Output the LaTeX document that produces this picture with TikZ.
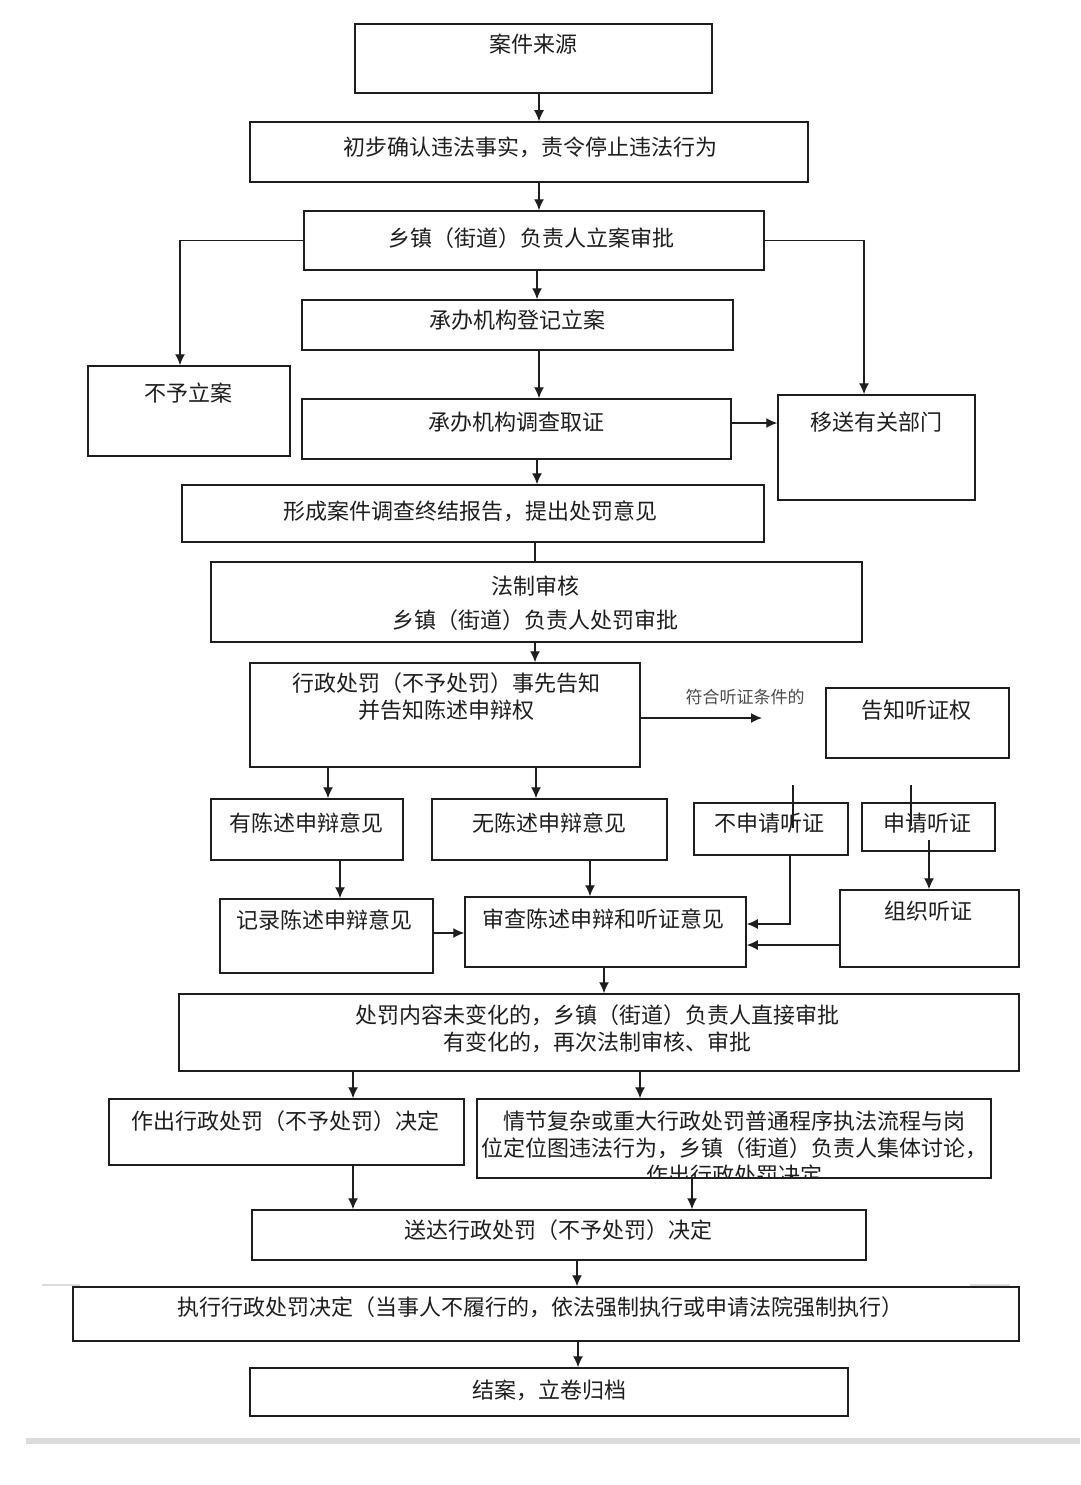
\documentclass[tikz,border=0pt]{standalone}
\usepackage{fontspec}
\newfontfamily\cjk{Noto Sans CJK SC}
\usepackage{tikz}
\usetikzlibrary{arrows.meta,positioning,calc}
\definecolor{Ink}{HTML}{1E1E1E}
\definecolor{Faint}{HTML}{DCDCDC}
\tikzset{
  box/.style={draw=Ink,line width=1.5pt,fill=white,inner sep=0pt},
  txt/.style={font=\cjk\fontsize{22pt}{27pt}\selectfont,text=Ink,align=center,inner sep=0pt},
  smalltxt/.style={font=\cjk\fontsize{17pt}{20pt}\selectfont,text=black!70,inner sep=0pt},
  arr/.style={-{Latex[length=11pt,width=10pt]},line width=1.4pt,draw=Ink},
  ln/.style={line width=1.4pt,draw=Ink}
}
\begin{document}
\begin{tikzpicture}[x=1pt,y=-1pt]
\useasboundingbox (0,0) rectangle (1080,1485);
\fill[white] (0,0) rectangle (1080,1485);
% boxes
\node[box,minimum width=357pt,minimum height=69pt] (src) at (533.5,58.5) {};
\node[box,minimum width=558pt,minimum height=60pt] (prelim) at (529,152) {};
\node[box,minimum width=460pt,minimum height=59pt] (appr) at (534,240.5) {};
\node[box,minimum width=431pt,minimum height=50pt] (reg) at (517.5,325) {};
\node[box,minimum width=202pt,minimum height=90pt] (nocase) at (189,411) {};
\node[box,minimum width=429pt,minimum height=60pt] (inv) at (516.5,429) {};
\node[box,minimum width=197pt,minimum height=105pt] (xfer) at (876.5,447.5) {};
\node[box,minimum width=582pt,minimum height=57pt] (rep) at (473,513.5) {};
\node[box,minimum width=651pt,minimum height=80pt] (legal) at (536.5,602) {};
\node[box,minimum width=390pt,minimum height=104pt] (notice) at (445,715) {};
\node[box,minimum width=183pt,minimum height=70pt] (hright) at (917.5,723) {};
\node[box,minimum width=192pt,minimum height=61pt] (haveop) at (307,829.5) {};
\node[box,minimum width=235pt,minimum height=61pt] (noop) at (549.5,829.5) {};
\node[box,minimum width=154pt,minimum height=52pt] (nohear) at (771,829) {};
\node[box,minimum width=133pt,minimum height=48pt] (hear) at (928.5,827) {};
\node[box,minimum width=213pt,minimum height=74pt] (rec) at (326.5,936) {};
\node[box,minimum width=281pt,minimum height=70pt] (review) at (605.5,932) {};
\node[box,minimum width=179pt,minimum height=77pt] (org) at (929.5,928.5) {};
\node[box,minimum width=840pt,minimum height=77pt] (same) at (599,1032.5) {};
\node[box,minimum width=355pt,minimum height=66pt] (dec) at (286.5,1132) {};
\node[box,minimum width=514pt,minimum height=79pt] (major) at (734,1138.5) {};
\node[box,minimum width=614pt,minimum height=50pt] (deliver) at (559,1235) {};
\node[box,minimum width=946pt,minimum height=54pt] (exec) at (546,1314) {};
\node[box,minimum width=598pt,minimum height=48pt] (close) at (549,1392) {};
% texts
\node[txt] (src-t) at (533,44) {案件来源};
\node[txt] (prelim-t) at (530,147) {初步确认违法事实，责令停止违法行为};
\node[txt] (appr-t) at (531,238) {乡镇（街道）负责人立案审批};
\node[txt] (reg-t) at (517,320) {承办机构登记立案};
\node[txt] (nocase-t) at (188,393) {不予立案};
\node[txt] (inv-t) at (516,422) {承办机构调查取证};
\node[txt] (xfer-t) at (876,422) {移送有关部门};
\node[txt] (rep-t) at (470,511) {形成案件调查终结报告，提出处罚意见};
\node[txt] (legal-t) at (535,603) {法制审核\\[7pt]乡镇（街道）负责人处罚审批};
\node[txt] (notice-t) at (446,696.5) {行政处罚（不予处罚）事先告知\\并告知陈述申辩权};
\node[txt] (hright-t) at (916,710) {告知听证权};
\node[txt] (haveop-t) at (306,823) {有陈述申辩意见};
\node[txt] (noop-t) at (549,823) {无陈述申辩意见};
\node[txt] (nohear-t) at (769,823) {不申请听证};
\node[txt] (hear-t) at (927,823) {申请听证};
\node[txt] (rec-t) at (324,920) {记录陈述申辩意见};
\node[txt] (review-t) at (603,919) {审查陈述申辩和听证意见};
\node[txt] (org-t) at (928,911) {组织听证};
\node[txt] (same-t) at (597,1029) {处罚内容未变化的，乡镇（街道）负责人直接审批\\有变化的，再次法制审核、审批};
\node[txt] (dec-t) at (285,1121) {作出行政处罚（不予处罚）决定};
\begin{scope}
\clip (major.north west) rectangle (major.south east);
\node[txt] (major-t) at (734,1148) {情节复杂或重大行政处罚普通程序执法流程与岗\\位定位图违法行为，乡镇（街道）负责人集体讨论，\\作出行政处罚决定};
\end{scope}
\node[txt] (deliver-t) at (558,1230) {送达行政处罚（不予处罚）决定};
\node[txt] (exec-t) at (540,1307) {执行行政处罚决定（当事人不履行的，依法强制执行或申请法院强制执行）};
\node[txt] (close-t) at (549,1390) {结案，立卷归档};
\node[smalltxt] (cond) at (745,697) {符合听证条件的};
% columns for connectors
\coordinate (colA) at (539,0);
\coordinate (colB) at (537,0);
\coordinate (colC) at (535,0);
\coordinate (ncx) at (180,0);
\coordinate (xfx) at (864,0);
\coordinate (hcond) at (762,718);
\coordinate (h1a) at (793,785);
\coordinate (h1b) at (793,828);
\coordinate (h2a) at (911,785);
\coordinate (h2b) at (911,826);
\coordinate (nh) at (790,924);
\coordinate (hs) at (929,840);
\coordinate (oy) at (0,945);
% connectors
\draw[arr] (src.south -| colA) -- (prelim.north -| colA);
\draw[arr] (prelim.south -| colA) -- (appr.north -| colA);
\draw[arr] (appr.south -| colB) -- (reg.north -| colB);
\draw[arr] (appr.west) -| (nocase.north -| ncx);
\draw[arr] (appr.east) -| (xfer.north -| xfx);
\draw[arr] (reg.south -| colA) -- (inv.north -| colA);
\draw[arr] ([yshift=6pt]inv.east) -- ([yshift=6pt]inv.east -| xfer.west);
\draw[arr] (inv.south -| colB) -- (rep.north -| colB);
\draw[ln] (rep.south -| colC) -- (legal.north -| colC);
\draw[arr] (legal.south -| colC) -- (notice.north -| colC);
\draw[arr] (notice.east |- hcond) -- (hcond);
\draw[ln] (h1a) -- (h1b);
\draw[ln] (h2a) -- (h2b);
\draw[arr] (notice.south -| 328,0) -- (haveop.north -| 328,0);
\draw[arr] (notice.south -| 536,0) -- (noop.north -| 536,0);
\draw[arr] (haveop.south -| 340,0) -- (rec.north -| 340,0);
\draw[arr] (noop.south -| 590,0) -- (review.north -| 590,0);
\draw[arr] ([yshift=3pt]rec.east) -- ([yshift=3pt]rec.east -| review.west);
\draw[arr] (nohear.south -| nh) |- (review.east |- nh);
\draw[arr] (hs) -- (org.north -| hs);
\draw[arr] (org.west |- oy) -- (review.east |- oy);
\draw[arr] (review.south -| 604,0) -- (same.north -| 604,0);
\draw[arr] (same.south -| 353,0) -- (dec.north -| 353,0);
\draw[arr] (same.south -| 640,0) -- (major.north -| 640,0);
\draw[arr] (dec.south -| 353,0) -- (deliver.north -| 353,0);
\draw[arr] (major.south -| 692,0) -- (deliver.north -| 692,0);
\draw[arr] (deliver.south -| 577,0) -- (exec.north -| 577,0);
\draw[arr] (exec.south -| 578,0) -- (close.north -| 578,0);
% page edges of the scan
\draw[Faint,line width=1.5pt] (42,1285) -- (80,1285);
\draw[Faint,line width=1.5pt] (970,1285) -- (1010,1285);
\fill[Faint] (26,1438) rectangle (1080,1444);
\end{tikzpicture}
\end{document}
